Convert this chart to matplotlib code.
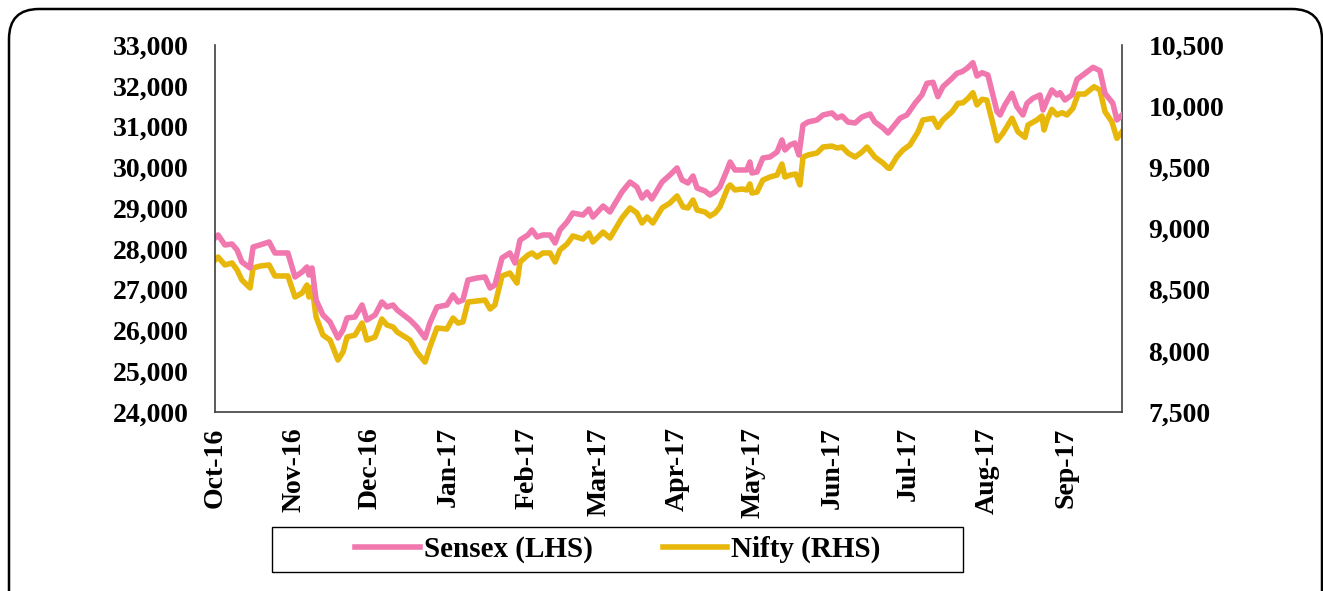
import matplotlib
matplotlib.use("Agg")
import matplotlib.pyplot as plt
import pandas as pd
from matplotlib.patches import FancyBboxPatch, Rectangle
from matplotlib.ticker import StrMethodFormatter

# days since 1 Oct 2016
sensex_day = [0, 1.2, 3.9, 6.7, 8.7, 10.6, 13.8, 15.0, 17.7, 21.3,
              23.6, 28.7, 31.5, 34.3, 36.2, 37.0, 38.2, 39.8, 42.5, 45.3,
              48.4, 50.4, 52.0, 55.1, 57.9, 59.8, 63.0, 65.7, 67.7, 70.1,
              71.7, 76.8, 79.5, 82.7, 84.6, 87.4, 91.3, 93.7, 95.7, 97.6,
              99.6, 103.1, 106.3, 108.3, 110.2, 113.0, 116.1, 118.1, 120.1, 123.2,
              124.8, 126.8, 129.1, 131.9, 133.9, 135.8, 138.6, 140.9, 144.9, 147.2,
              148.8, 152.8, 155.5, 160.2, 163.4, 166.1, 168.1, 170.1, 172.0, 176.0,
              179.1, 181.9, 183.9, 186.2, 188.2, 189.8, 192.9, 194.9, 196.9, 198.8,
              201.6, 202.8, 204.7, 207.5, 209.4, 210.6, 211.4, 213.4, 215.7, 218.5,
              221.3, 223.2, 224.4, 226.4, 228.3, 229.9, 231.5, 233.5, 237.0, 239.4,
              242.9, 244.9, 246.9, 249.2, 252.0, 254.7, 257.9, 259.8, 263.0, 265.0,
              269.7, 272.4, 275.6, 278.3, 280.3, 282.7, 284.6, 286.6, 290.2, 292.1,
              294.1, 296.1, 298.4, 300.0, 302.0, 304.3, 307.9, 309.1, 311.0, 313.8,
              315.7, 318.1, 319.7, 322.0, 324.8, 326.0, 327.6, 329.5, 331.5, 332.7,
              334.6, 337.4, 339.4, 341.7, 345.7, 348.4, 350.4, 353.5, 355.1, 357.1]
sensex = [28267, 28341, 28096, 28120, 27973, 27679, 27532, 28047, 28096, 28170,
          27900, 27900, 27311, 27434, 27556, 27360, 27532, 26747, 26379, 26207,
          25815, 26011, 26305, 26330, 26624, 26256, 26379, 26698, 26575, 26624,
          26502, 26256, 26085, 25815, 26183, 26575, 26624, 26870, 26698, 26747,
          27237, 27286, 27311, 27041, 27115, 27777, 27900, 27654, 28218, 28341,
          28463, 28292, 28341, 28341, 28145, 28463, 28660, 28880, 28831, 28978,
          28782, 29052, 28905, 29395, 29640, 29518, 29248, 29395, 29224, 29640,
          29812, 29984, 29690, 29616, 29788, 29493, 29420, 29322, 29395, 29518,
          29935, 30131, 29935, 29935, 29935, 30131, 29861, 29886, 30229, 30254,
          30376, 30670, 30425, 30548, 30597, 30303, 31038, 31112, 31161, 31284,
          31333, 31210, 31259, 31112, 31087, 31234, 31308, 31112, 30965, 30842,
          31203, 31284, 31570, 31774, 32061, 32085, 31733, 31978, 32183, 32306,
          32346, 32428, 32566, 32240, 32321, 32264, 31365, 31284, 31529, 31815,
          31488, 31284, 31570, 31693, 31774, 31406, 31651, 31897, 31774, 31830,
          31651, 31774, 32159, 32264, 32453, 32370, 31815, 31570, 31161, 31284]

nifty_day = [0, 1.2, 3.9, 6.7, 8.7, 10.6, 13.8, 15.0, 17.7, 21.3,
             23.6, 28.7, 31.5, 34.3, 36.2, 37.0, 38.2, 39.8, 42.5, 45.3,
             48.4, 50.4, 52.0, 55.1, 57.9, 59.8, 63.0, 65.7, 67.7, 70.1,
             71.7, 76.8, 79.5, 82.7, 84.6, 87.4, 91.3, 93.7, 95.7, 97.6,
             99.6, 103.1, 106.3, 108.3, 110.2, 113.0, 116.1, 118.9, 120.1, 123.2,
             124.8, 126.8, 129.1, 131.9, 133.9, 135.8, 138.6, 140.9, 144.9, 147.2,
             148.8, 152.8, 155.5, 160.2, 163.4, 166.1, 168.1, 170.1, 172.4, 176.0,
             179.1, 181.9, 184.3, 186.2, 188.2, 189.8, 192.9, 194.9, 196.9, 198.8,
             202.0, 202.8, 204.7, 207.5, 209.4, 210.6, 211.4, 213.4, 215.7, 218.5,
             221.3, 223.2, 224.4, 226.4, 228.7, 230.3, 231.5, 233.5, 237.0, 239.4,
             242.9, 244.9, 246.9, 249.2, 252.0, 254.7, 256.7, 259.8, 263.0, 265.0,
             265.7, 268.5, 270.9, 273.6, 276.8, 278.7, 282.7, 284.6, 286.6, 290.2,
             292.5, 294.5, 296.5, 298.4, 300.0, 302.0, 303.9, 305.9, 307.9, 310.2,
             313.8, 316.1, 318.9, 320.1, 323.6, 325.6, 326.4, 327.6, 329.5, 331.5,
             333.5, 335.4, 337.8, 339.8, 342.5, 346.1, 348.4, 350.4, 353.1, 355.1,
             357.1]
nifty = [8742, 8767, 8702, 8718, 8661, 8579, 8514, 8677, 8693, 8702,
         8612, 8612, 8440, 8473, 8538, 8440, 8522, 8277, 8129, 8088,
         7925, 7990, 8113, 8129, 8227, 8088, 8113, 8260, 8211, 8195,
         8154, 8088, 7990, 7908, 8031, 8187, 8178, 8268, 8227, 8236,
         8399, 8407, 8415, 8342, 8375, 8612, 8636, 8554, 8726, 8783,
         8800, 8767, 8800, 8800, 8726, 8824, 8873, 8939, 8914, 8963,
         8890, 8971, 8922, 9086, 9168, 9127, 9045, 9094, 9045, 9168,
         9208, 9266, 9176, 9168, 9233, 9151, 9135, 9102, 9127, 9176,
         9339, 9356, 9315, 9323, 9315, 9364, 9290, 9298, 9396, 9421,
         9437, 9527, 9421, 9437, 9445, 9356, 9584, 9601, 9617, 9666,
         9674, 9658, 9666, 9617, 9584, 9625, 9666, 9584, 9535, 9494,
         9492, 9587, 9642, 9683, 9791, 9887, 9901, 9827, 9887, 9955,
         10023, 10028, 10064, 10110, 10010, 10056, 10050, 9887, 9718, 9778,
         9901, 9791, 9745, 9846, 9887, 9920, 9805, 9887, 9974, 9928,
         9947, 9928, 9983, 10099, 10099, 10159, 10132, 9955, 9873, 9737,
         9791]

month_ticks = pd.date_range("2016-10-01", "2017-09-01", freq="MS")

plt.rcParams["font.family"] = "Liberation Serif"
plt.rcParams["font.weight"] = "bold"

W, H = 1323, 591
fig = plt.figure(figsize=(W / 100, H / 100), dpi=100)
ax = fig.add_axes([215 / W, 179 / H, 907 / W, 367 / H])
ax2 = ax.twinx()

start = pd.Timestamp("2016-10-01")
s_dates = start + pd.to_timedelta(sensex_day, unit="D")
n_dates = start + pd.to_timedelta(nifty_day, unit="D")

pink = "#F178AE"
gold = "#E8B70B"
l1, = ax.plot(s_dates, sensex, color=pink, lw=4, solid_joinstyle="round", label="Sensex (LHS)")
l2, = ax2.plot(n_dates, nifty, color=gold, lw=4, solid_joinstyle="round", label="Nifty (RHS)")

# pink on top of gold
ax.set_zorder(ax2.get_zorder() + 1)
ax.patch.set_visible(False)

ax.set_xlim(s_dates[0], s_dates[-1])
ax.set_ylim(24000, 33000)
ax.set_yticks(range(24000, 33001, 1000))
ax.yaxis.set_major_formatter(StrMethodFormatter("{x:,.0f}"))
ax2.set_ylim(7500, 10500)
ax2.set_yticks(range(7500, 10501, 500))
ax2.yaxis.set_major_formatter(StrMethodFormatter("{x:,.0f}"))

ax.set_xticks(month_ticks)
ax.set_xticklabels([d.strftime("%b-%y") for d in month_ticks], rotation=90)

ax.tick_params(axis="y", length=0, labelsize=20, pad=19)
ax.tick_params(axis="x", length=0, labelsize=20, pad=11)
ax2.tick_params(axis="y", length=0, labelsize=20, pad=19)

for a in (ax, ax2):
    a.spines["top"].set_visible(False)
    for s in a.spines.values():
        s.set_color("#404040")
        s.set_linewidth(1.2)
ax.spines["right"].set_visible(False)
ax2.spines["left"].set_visible(False)
ax2.spines["bottom"].set_visible(False)

# legend with its own box
fig.legend([l1, l2], ["Sensex (LHS)", "Nifty (RHS)"], loc="center",
           bbox_to_anchor=(618 / W, 1 - 549.5 / H), ncol=2, frameon=False,
           fontsize=21, handlelength=2.2, handletextpad=0.15, columnspacing=2.4)
fig.add_artist(Rectangle((272 / W, 1 - 572 / H), (963 - 272) / W, 45 / H,
                         transform=fig.transFigure, fill=False, edgecolor="black", lw=1))

# rounded outer frame
fig.add_artist(FancyBboxPatch((0.09, -0.6), 13.13, 5.91 - 0.09 + 0.6,
                              boxstyle="round,pad=0,rounding_size=0.3",
                              transform=fig.dpi_scale_trans, fill=False,
                              edgecolor="black", lw=1.8, clip_on=False))

fig.savefig("out.png", dpi=100)
